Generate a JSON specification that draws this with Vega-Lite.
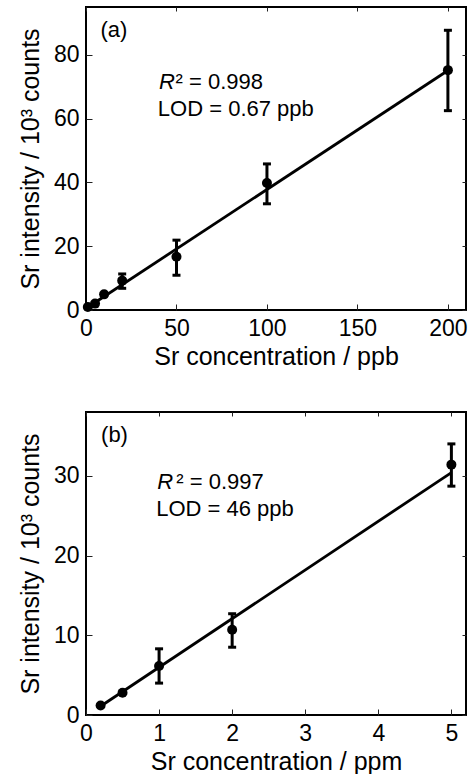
{
  "$schema": "https://vega.github.io/schema/vega-lite/v6.json",
  "padding": {"left": 17, "top": 5, "right": 5, "bottom": 5},
  "spacing": 40,
  "config": {
    "font": "Liberation Sans",
    "view": {"stroke": "black", "strokeWidth": 2},
    "axis": {
      "grid": false, "domain": false,
      "labelFont": "Liberation Sans", "labelFontSize": 23, "labelColor": "black",
      "titleFont": "Liberation Sans", "titleFontSize": 25, "titleFontWeight": "normal", "titleColor": "black",
      "tickColor": "#222", "tickWidth": 1, "labelFlush": false, "labelOverlap": false
    },
    "text": {"font": "Liberation Sans", "fontSize": 22, "color": "black"}
  },
  "datasets": {
    "a_pts": [
      {"conc": 1, "intensity": 0.95},
      {"conc": 5, "intensity": 2.0},
      {"conc": 10, "intensity": 4.9},
      {"conc": 20, "intensity": 9.2},
      {"conc": 50, "intensity": 16.7},
      {"conc": 100, "intensity": 39.8},
      {"conc": 200, "intensity": 75.2}
    ],
    "a_err": [
      {"conc": 20, "lo": 6.8, "hi": 11.3},
      {"conc": 50, "lo": 10.9, "hi": 21.9},
      {"conc": 100, "lo": 33.3, "hi": 45.8},
      {"conc": 200, "lo": 62.5, "hi": 87.7}
    ],
    "a_fit": [
      {"conc": 1, "intensity": 0.87},
      {"conc": 200, "intensity": 75.1}
    ],
    "a_txt": [
      {"conc": 8, "intensity": 85.6, "label": "(a)"},
      {"conc": 49.5, "intensity": 69.3, "label": "² = 0.998"},
      {"conc": 39.7, "intensity": 60.9, "label": "LOD = 0.67 ppb"}
    ],
    "a_ital": [
      {"conc": 40.3, "intensity": 69.3, "label": "R"}
    ],
    "b_pts": [
      {"conc": 0.2, "intensity": 1.2},
      {"conc": 0.5, "intensity": 2.8},
      {"conc": 1, "intensity": 6.15},
      {"conc": 2, "intensity": 10.7},
      {"conc": 5, "intensity": 31.4}
    ],
    "b_err": [
      {"conc": 1, "lo": 4.0, "hi": 8.3},
      {"conc": 2, "lo": 8.5, "hi": 12.7},
      {"conc": 5, "lo": 28.7, "hi": 34.0}
    ],
    "b_fit": [
      {"conc": 0.2, "intensity": 1.1},
      {"conc": 5, "intensity": 30.4}
    ],
    "b_txt": [
      {"conc": 0.206, "intensity": 34.3, "label": "(b)"},
      {"conc": 1.235, "intensity": 28.3, "label": "² = 0.997"},
      {"conc": 0.96, "intensity": 25.0, "label": "LOD = 46 ppb"}
    ],
    "b_ital": [
      {"conc": 0.974, "intensity": 28.3, "label": "R"}
    ]
  },
  "vconcat": [
    {
      "width": 380,
      "height": 303,
      "resolve": {"axis": {"x": "independent", "y": "independent"}},
      "layer": [
        {
          "data": {"name": "a_fit"},
          "mark": {"type": "line", "color": "black", "strokeWidth": 2.8},
          "encoding": {
            "x": {"field": "conc", "type": "quantitative", "scale": {"domain": [0, 210], "nice": false, "zero": false},
                  "axis": {"orient": "top", "values": [0, 50, 100, 150, 200], "labels": false, "title": null, "tickSize": -4}},
            "y": {"field": "intensity", "type": "quantitative", "scale": {"domain": [0, 95], "nice": false, "zero": false},
                  "axis": {"orient": "right", "values": [0, 20, 40, 60, 80], "labels": false, "title": null, "tickSize": -4}}
          }
        },
        {
          "data": {"name": "a_err"},
          "mark": {"type": "rule", "color": "black", "strokeWidth": 3},
          "encoding": {
            "x": {"field": "conc", "type": "quantitative", "axis": null},
            "y": {"field": "lo", "type": "quantitative", "axis": null},
            "y2": {"field": "hi"}
          }
        },
        {
          "data": {"name": "a_err"},
          "mark": {"type": "tick", "orient": "horizontal", "color": "black", "size": 8, "thickness": 3, "opacity": 1},
          "encoding": {
            "x": {"field": "conc", "type": "quantitative", "axis": null},
            "y": {"field": "lo", "type": "quantitative", "axis": null}
          }
        },
        {
          "data": {"name": "a_err"},
          "mark": {"type": "tick", "orient": "horizontal", "color": "black", "size": 8, "thickness": 3, "opacity": 1},
          "encoding": {
            "x": {"field": "conc", "type": "quantitative", "axis": null},
            "y": {"field": "hi", "type": "quantitative", "axis": null}
          }
        },
        {
          "data": {"name": "a_pts"},
          "mark": {"type": "circle", "color": "black", "size": 100, "opacity": 1},
          "encoding": {
            "x": {"field": "conc", "type": "quantitative",
                  "axis": {"orient": "bottom", "values": [0, 50, 100, 150, 200], "title": "Sr concentration / ppb", "tickSize": -6, "labelPadding": 13}},
            "y": {"field": "intensity", "type": "quantitative",
                  "axis": {"orient": "left", "values": [0, 20, 40, 60, 80], "title": "Sr intensity / 10³ counts", "tickSize": -6, "labelPadding": 13, "titlePadding": 10}}
          }
        },
        {
          "data": {"name": "a_txt"},
          "mark": {"type": "text", "align": "left", "baseline": "alphabetic"},
          "encoding": {
            "x": {"field": "conc", "type": "quantitative", "axis": null},
            "y": {"field": "intensity", "type": "quantitative", "axis": null},
            "text": {"field": "label"}
          }
        },
        {
          "data": {"name": "a_ital"},
          "mark": {"type": "text", "align": "left", "baseline": "alphabetic", "fontStyle": "italic"},
          "encoding": {
            "x": {"field": "conc", "type": "quantitative", "axis": null},
            "y": {"field": "intensity", "type": "quantitative", "axis": null},
            "text": {"field": "label"}
          }
        }
      ]
    },
    {
      "width": 380,
      "height": 303,
      "resolve": {"axis": {"x": "independent", "y": "independent"}},
      "layer": [
        {
          "data": {"name": "b_fit"},
          "mark": {"type": "line", "color": "black", "strokeWidth": 2.8},
          "encoding": {
            "x": {"field": "conc", "type": "quantitative", "scale": {"domain": [0, 5.2], "nice": false, "zero": false},
                  "axis": {"orient": "top", "values": [0, 1, 2, 3, 4, 5], "labels": false, "title": null, "tickSize": -4}},
            "y": {"field": "intensity", "type": "quantitative", "scale": {"domain": [0, 38], "nice": false, "zero": false},
                  "axis": {"orient": "right", "values": [0, 10, 20, 30], "labels": false, "title": null, "tickSize": -4}}
          }
        },
        {
          "data": {"name": "b_err"},
          "mark": {"type": "rule", "color": "black", "strokeWidth": 3},
          "encoding": {
            "x": {"field": "conc", "type": "quantitative", "axis": null},
            "y": {"field": "lo", "type": "quantitative", "axis": null},
            "y2": {"field": "hi"}
          }
        },
        {
          "data": {"name": "b_err"},
          "mark": {"type": "tick", "orient": "horizontal", "color": "black", "size": 8, "thickness": 3, "opacity": 1},
          "encoding": {
            "x": {"field": "conc", "type": "quantitative", "axis": null},
            "y": {"field": "lo", "type": "quantitative", "axis": null}
          }
        },
        {
          "data": {"name": "b_err"},
          "mark": {"type": "tick", "orient": "horizontal", "color": "black", "size": 8, "thickness": 3, "opacity": 1},
          "encoding": {
            "x": {"field": "conc", "type": "quantitative", "axis": null},
            "y": {"field": "hi", "type": "quantitative", "axis": null}
          }
        },
        {
          "data": {"name": "b_pts"},
          "mark": {"type": "circle", "color": "black", "size": 100, "opacity": 1},
          "encoding": {
            "x": {"field": "conc", "type": "quantitative",
                  "axis": {"orient": "bottom", "values": [0, 1, 2, 3, 4, 5], "title": "Sr concentration / ppm", "tickSize": -6, "labelPadding": 13}},
            "y": {"field": "intensity", "type": "quantitative",
                  "axis": {"orient": "left", "values": [0, 10, 20, 30], "title": "Sr intensity / 10³ counts", "tickSize": -6, "labelPadding": 13, "titlePadding": 10}}
          }
        },
        {
          "data": {"name": "b_txt"},
          "mark": {"type": "text", "align": "left", "baseline": "alphabetic"},
          "encoding": {
            "x": {"field": "conc", "type": "quantitative", "axis": null},
            "y": {"field": "intensity", "type": "quantitative", "axis": null},
            "text": {"field": "label"}
          }
        },
        {
          "data": {"name": "b_ital"},
          "mark": {"type": "text", "align": "left", "baseline": "alphabetic", "fontStyle": "italic"},
          "encoding": {
            "x": {"field": "conc", "type": "quantitative", "axis": null},
            "y": {"field": "intensity", "type": "quantitative", "axis": null},
            "text": {"field": "label"}
          }
        }
      ]
    }
  ]
}
